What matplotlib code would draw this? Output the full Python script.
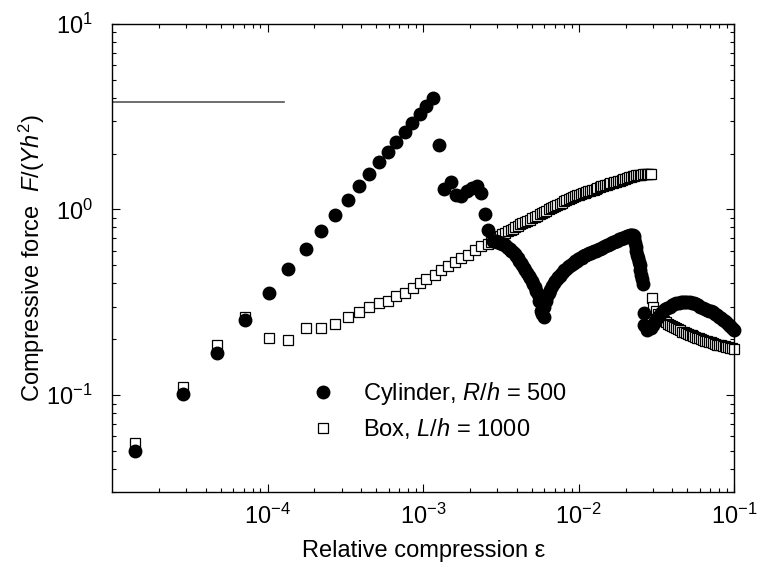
import numpy as np
import matplotlib
matplotlib.use('Agg')
import matplotlib.pyplot as plt
from matplotlib.ticker import LogLocator, NullFormatter, FixedLocator

plt.rcParams['font.family'] = ['Liberation Sans', 'DejaVu Sans']
plt.rcParams['mathtext.fontset'] = 'custom'
plt.rcParams['mathtext.rm'] = 'Liberation Sans'
plt.rcParams['mathtext.it'] = 'Liberation Sans:italic'

# cylinder, R/h = 500 (filled circles)
cyl_eps = [
    1.41e-5, 2.86e-5, 4.76e-5, 7.18e-5, 1.02e-4, 1.36e-4, 1.77e-4, 2.21e-4,
    2.73e-4, 3.28e-4, 3.85e-4, 4.49e-4, 5.20e-4, 5.94e-4, 6.73e-4, 7.61e-4,
    8.53e-4, 9.51e-4, 1.05e-3, 1.16e-3, 1.26e-3, 1.36e-3, 1.50e-3, 1.62e-3,
    1.75e-3, 1.90e-3, 2.05e-3, 2.21e-3, 2.36e-3, 2.48e-3, 2.63e-3,
    # first collapse branch
    2.80e-3, 2.87e-3, 2.93e-3, 3.00e-3, 3.07e-3, 3.14e-3, 3.21e-3, 3.29e-3,
    3.37e-3, 3.45e-3, 3.53e-3, 3.61e-3, 3.69e-3, 3.78e-3, 3.87e-3, 3.96e-3,
    4.05e-3, 4.14e-3, 4.24e-3, 4.34e-3, 4.44e-3, 4.54e-3, 4.65e-3, 4.76e-3,
    4.87e-3, 4.98e-3, 5.10e-3, 5.22e-3, 5.34e-3, 5.46e-3, 5.59e-3, 5.72e-3,
    5.80e-3, 5.94e-3,
    # recovery branch
    6.00e-3, 6.14e-3, 6.28e-3, 6.43e-3, 6.58e-3, 6.73e-3, 6.89e-3, 7.05e-3,
    7.21e-3, 7.38e-3, 7.55e-3, 7.73e-3, 7.91e-3, 8.09e-3, 8.28e-3, 8.47e-3,
    8.67e-3, 8.87e-3, 9.08e-3, 9.29e-3, 9.51e-3, 9.73e-3, 9.96e-3, 1.019e-2,
    1.043e-2, 1.067e-2, 1.092e-2, 1.118e-2, 1.144e-2, 1.171e-2, 1.198e-2,
    1.226e-2, 1.254e-2, 1.284e-2, 1.314e-2, 1.344e-2, 1.376e-2, 1.408e-2,
    1.441e-2, 1.474e-2, 1.509e-2, 1.544e-2, 1.580e-2, 1.617e-2, 1.655e-2,
    1.693e-2, 1.733e-2, 1.773e-2, 1.815e-2, 1.857e-2, 1.900e-2, 1.945e-2,
    1.990e-2, 2.036e-2, 2.084e-2, 2.133e-2, 2.182e-2, 2.233e-2, 2.26e-2,
    # second collapse
    2.28e-2, 2.30e-2, 2.32e-2, 2.35e-2, 2.37e-2, 2.40e-2, 2.43e-2, 2.46e-2,
    2.49e-2, 2.52e-2, 2.55e-2, 2.58e-2,
    2.62e-2, 2.62e-2, 2.75e-2,
    # post-buckling tail
    2.90e-2, 3.00e-2, 3.10e-2, 3.20e-2, 3.30e-2, 3.40e-2, 3.50e-2, 3.60e-2,
    3.72e-2, 3.85e-2, 3.97e-2, 4.10e-2, 4.25e-2, 4.40e-2, 4.55e-2, 4.70e-2,
    4.85e-2, 5.00e-2, 5.17e-2, 5.35e-2, 5.52e-2, 5.70e-2, 5.87e-2, 6.05e-2,
    6.25e-2, 6.45e-2, 6.65e-2, 6.85e-2, 7.05e-2, 7.25e-2, 7.48e-2, 7.70e-2,
    7.95e-2, 8.20e-2, 8.45e-2, 8.70e-2, 8.95e-2, 9.20e-2, 9.45e-2, 9.70e-2,
    1.00e-1,
]
cyl_force = [
    0.050, 0.101, 0.168, 0.254, 0.356, 0.476, 0.613, 0.763,
    0.936, 1.12, 1.34, 1.56, 1.80, 2.05, 2.32, 2.62,
    2.94, 3.26, 3.62, 3.97, 2.23, 1.29, 1.41, 1.19,
    1.18, 1.25, 1.31, 1.33, 1.23, 0.94, 0.773,
    0.68, 0.68, 0.675, 0.67, 0.665, 0.66, 0.655, 0.65,
    0.64, 0.63, 0.62, 0.61, 0.60, 0.59, 0.575, 0.56,
    0.545, 0.53, 0.515, 0.50, 0.485, 0.47, 0.455, 0.44,
    0.425, 0.41, 0.395, 0.38, 0.365, 0.35, 0.32, 0.285,
    0.275, 0.262,
    0.30, 0.32, 0.34, 0.355, 0.37, 0.385, 0.40, 0.41,
    0.42, 0.43, 0.44, 0.45, 0.46, 0.47, 0.48, 0.49,
    0.495, 0.50, 0.51, 0.515, 0.525, 0.53, 0.54, 0.545,
    0.55, 0.56, 0.565, 0.57, 0.575, 0.58, 0.585,
    0.59, 0.595, 0.60, 0.605, 0.61, 0.615, 0.62,
    0.63, 0.635, 0.64, 0.645, 0.65, 0.66, 0.665,
    0.67, 0.675, 0.68, 0.69, 0.695, 0.70, 0.705,
    0.71, 0.715, 0.72, 0.725, 0.73, 0.73, 0.72,
    0.69, 0.66, 0.63, 0.60, 0.57, 0.545, 0.52, 0.50,
    0.47, 0.445, 0.42, 0.395,
    0.277, 0.24, 0.225,
    0.23, 0.24, 0.25, 0.26, 0.268, 0.276, 0.283, 0.29,
    0.295, 0.30, 0.305, 0.31, 0.313, 0.315, 0.317, 0.318,
    0.318, 0.318, 0.317, 0.315, 0.313, 0.31, 0.305, 0.30,
    0.295, 0.29, 0.288, 0.285, 0.283, 0.28, 0.275, 0.27,
    0.265, 0.26, 0.255, 0.25, 0.245, 0.24, 0.235, 0.23,
    0.225,
]

# box, L/h = 1000 (open squares)
box_eps = [
    1.41e-5, 2.86e-5, 4.76e-5, 7.18e-5, 1.02e-4, 1.36e-4, 1.77e-4, 2.21e-4,
    2.73e-4, 3.28e-4, 3.85e-4, 4.49e-4, 5.20e-4, 5.94e-4, 6.73e-4, 7.61e-4,
    8.60e-4, 9.50e-4, 1.05e-3, 1.19e-3, 1.31e-3, 1.45e-3, 1.60e-3, 1.76e-3,
    1.95e-3, 2.15e-3, 2.37e-3,
    # dense loading branch
    2.60e-3, 2.72e-3, 2.85e-3, 2.97e-3, 3.10e-3, 3.23e-3, 3.37e-3, 3.51e-3,
    3.65e-3, 3.77e-3, 3.90e-3, 4.05e-3, 4.20e-3, 4.35e-3, 4.50e-3, 4.67e-3,
    4.85e-3, 5.02e-3, 5.20e-3, 5.40e-3, 5.60e-3, 5.80e-3, 6.00e-3, 6.20e-3,
    6.40e-3, 6.62e-3, 6.85e-3, 7.07e-3, 7.30e-3, 7.55e-3, 7.80e-3, 8.05e-3,
    8.30e-3, 8.60e-3, 8.90e-3, 9.20e-3, 9.50e-3, 9.75e-3, 1.00e-2, 1.03e-2,
    1.06e-2, 1.09e-2, 1.12e-2, 1.15e-2, 1.18e-2, 1.215e-2, 1.25e-2, 1.285e-2,
    1.32e-2, 1.36e-2, 1.40e-2, 1.44e-2, 1.48e-2, 1.52e-2, 1.56e-2, 1.60e-2,
    1.65e-2, 1.695e-2, 1.74e-2, 1.79e-2, 1.84e-2, 1.89e-2, 1.94e-2, 1.995e-2,
    2.05e-2, 2.105e-2, 2.16e-2, 2.22e-2, 2.28e-2, 2.34e-2, 2.40e-2, 2.465e-2,
    2.53e-2, 2.595e-2, 2.66e-2, 2.73e-2, 2.80e-2, 2.865e-2, 2.93e-2,
    # collapse
    2.95e-2, 3.00e-2,
    # post-buckling tail
    3.15e-2, 3.25e-2, 3.35e-2, 3.45e-2, 3.55e-2, 3.65e-2, 3.76e-2, 3.87e-2,
    3.98e-2, 4.10e-2, 4.22e-2, 4.34e-2, 4.47e-2, 4.60e-2, 4.73e-2, 4.87e-2,
    5.01e-2, 5.16e-2, 5.31e-2, 5.46e-2, 5.62e-2, 5.79e-2, 5.96e-2, 6.13e-2,
    6.31e-2, 6.49e-2, 6.68e-2, 6.88e-2, 7.08e-2, 7.29e-2, 7.50e-2, 7.72e-2,
    7.94e-2, 8.17e-2, 8.41e-2, 8.66e-2, 8.91e-2, 9.17e-2, 9.44e-2, 9.72e-2,
    1.00e-1,
]
box_force = [
    0.0552, 0.111, 0.185, 0.263, 0.204, 0.198, 0.229, 0.229,
    0.242, 0.262, 0.280, 0.298, 0.313, 0.323, 0.340, 0.355,
    0.377, 0.400, 0.422, 0.445, 0.474, 0.494, 0.521, 0.548,
    0.571, 0.602, 0.634,
    0.655, 0.667, 0.68, 0.70, 0.72, 0.735, 0.75, 0.762,
    0.775, 0.787, 0.80, 0.815, 0.83, 0.842, 0.855, 0.867,
    0.88, 0.895, 0.91, 0.925, 0.94, 0.955, 0.97, 0.985,
    1.00, 1.015, 1.03, 1.045, 1.06, 1.075, 1.09, 1.105,
    1.12, 1.135, 1.15, 1.165, 1.18, 1.19, 1.20, 1.21,
    1.22, 1.23, 1.24, 1.25, 1.26, 1.27, 1.28, 1.29,
    1.30, 1.315, 1.33, 1.34, 1.35, 1.36, 1.37, 1.38,
    1.39, 1.40, 1.41, 1.42, 1.43, 1.44, 1.45, 1.465,
    1.48, 1.49, 1.50, 1.51, 1.52, 1.525, 1.53, 1.535,
    1.54, 1.545, 1.55, 1.55, 1.55, 1.55, 1.55,
    0.333, 0.30,
    0.285, 0.272, 0.262, 0.256, 0.251, 0.247, 0.243, 0.239,
    0.235, 0.232, 0.229, 0.226, 0.223, 0.220, 0.218, 0.216,
    0.214, 0.212, 0.210, 0.208, 0.206, 0.204, 0.202, 0.200,
    0.198, 0.196, 0.195, 0.193, 0.192, 0.190, 0.189, 0.187,
    0.186, 0.185, 0.184, 0.183, 0.182, 0.181, 0.180, 0.179,
    0.178,
]

# horizontal reference level
ref_level = 3.8
ref_eps = [1e-5, 1.27e-4]

fig = plt.figure(figsize=(7.57, 5.67), dpi=100)
ax = fig.add_axes([0.148, 0.132, 0.822, 0.826])

ax.plot(ref_eps, [ref_level, ref_level], '-', color='#555555', lw=1.2, zorder=1)
hb, = ax.plot(box_eps, box_force, 's', mfc='white', mec='black', mew=0.9,
              ms=7.5, ls='none', zorder=2, clip_on=False,
              label='Box, $L/h$ = 1000')
hc, = ax.plot(cyl_eps, cyl_force, 'o', color='black', ms=9, ls='none',
              zorder=3, clip_on=False, label='Cylinder, $R/h$ = 500')

ax.set_xscale('log')
ax.set_yscale('log')
ax.set_xlim(1e-5, 1e-1)
ax.set_ylim(0.03, 10)

ax.xaxis.set_major_locator(FixedLocator([1e-4, 1e-3, 1e-2, 1e-1]))
ax.xaxis.set_minor_locator(LogLocator(base=10, subs=np.arange(2, 10), numticks=20))
ax.yaxis.set_minor_locator(LogLocator(base=10, subs=np.arange(2, 10), numticks=20))
ax.xaxis.set_minor_formatter(NullFormatter())
ax.yaxis.set_minor_formatter(NullFormatter())

ax.tick_params(which='both', direction='in', top=True, right=True,
               labelsize=17, width=0.8)
ax.tick_params(which='major', length=6)
ax.tick_params(which='minor', length=3)
ax.tick_params(axis='x', which='major', pad=8)
ax.tick_params(axis='y', which='major', pad=14)
for s in ax.spines.values():
    s.set_linewidth(1.0)

ax.set_xlabel('Relative compression ε', fontsize=17, labelpad=8)
ax.set_ylabel('Compressive force  $F/(Yh^2)$', fontsize=17, labelpad=-1)

ax.legend(handles=[hc, hb], loc='upper left', bbox_to_anchor=(0.305, 0.26),
          frameon=False, fontsize=17, handlelength=1.0, handletextpad=1.2,
          labelspacing=0.4, borderaxespad=0)

fig.savefig('out.png', dpi=100)
